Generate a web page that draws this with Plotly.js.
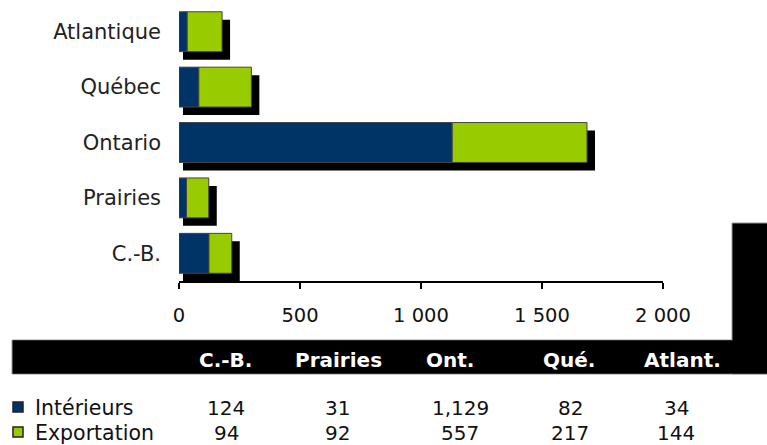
<!DOCTYPE html>
<html>
<head>
<meta charset="utf-8">
<script src="https://cdn.plot.ly/plotly-3.0.1.min.js"></script>
<style>html,body{margin:0;padding:0;background:#fff;}#chart{width:767px;height:445px;}</style>
</head>
<body>
<div id="chart"></div>
<script>
// ---- data ----
const regions = ['C.-B.', 'Prairies', 'Ontario', 'Québec', 'Atlantique'];
const tableHeaders = ['C.-B.', 'Prairies', 'Ont.', 'Qué.', 'Atlant.'];
const interieurs = [124, 31, 1129, 82, 34];
const exportation = [94, 92, 557, 217, 144];
const seriesNames = ['Intérieurs', 'Exportation'];
const xTicks = [0, 500, 1000, 1500, 2000];

// ---- layout constants (pixels) ----
const W = 767, H = 445;
const L = 179, R = 663, T = 4, B = 281;
const pw = R - L, ph = B - T;
const px2x = p => (p - L) / pw;
const py2y = p => (B - p) / ph;
const unitsPerPx = 2000 / pw;

const NAVY = '#003366', GREEN = '#99CC00';
const FONT = 'DejaVu Sans, Verdana, sans-serif';
const barW = 0.72;
const shadowDown = 8 / (ph / 5);

const totals = interieurs.map((v, i) => v + exportation[i]);
const shadowBase = regions.map(() => 4 * unitsPerPx);
const shadowLen = totals.map(t => t + 8 * unitsPerPx - 4 * unitsPerPx);

const traces = [
  {type: 'bar', orientation: 'h', y: regions, x: shadowLen, base: shadowBase,
   width: barW, offset: -barW / 2 - shadowDown, marker: {color: '#000'},
   showlegend: false, hoverinfo: 'skip'},
  {type: 'bar', orientation: 'h', name: seriesNames[0], y: regions, x: interieurs,
   base: regions.map(() => 0), width: barW, offset: -barW / 2,
   marker: {color: NAVY, line: {color: '#444', width: 1}}},
  {type: 'bar', orientation: 'h', name: seriesNames[1], y: regions, x: exportation,
   base: interieurs, width: barW, offset: -barW / 2,
   marker: {color: GREEN, line: {color: '#444', width: 1}}}
];

const headerX = [225, 338, 450, 569, 682];
const dataX = [226, 337, 460, 570, 676];
const annotations = [];
tableHeaders.forEach((h, i) => annotations.push({
  xref: 'paper', yref: 'paper', x: px2x(headerX[i]), y: py2y(360),
  xanchor: 'center', yanchor: 'middle', showarrow: false, text: '<b>' + h + '</b>',
  font: {family: FONT, size: 20, color: '#fff'}
}));
[interieurs, exportation].forEach((arr, r) => arr.forEach((v, i) => annotations.push({
  xref: 'paper', yref: 'paper', x: px2x(dataX[i]), y: py2y(r === 0 ? 408 : 433),
  xanchor: 'center', yanchor: 'middle', showarrow: false,
  text: v.toLocaleString('en-US'), font: {family: FONT, size: 20, color: '#111'}
})));
// legend as text annotations next to swatches
seriesNames.forEach((n, r) => annotations.push({
  xref: 'paper', yref: 'paper', x: px2x(33), y: py2y(r === 0 ? 408 : 433),
  xanchor: 'left', yanchor: 'middle', showarrow: false, text: n,
  font: {family: FONT, size: 20.5, color: '#111'}
}));

const shapes = [
  {type: 'rect', xref: 'paper', yref: 'paper', x0: px2x(12), x1: px2x(772),
   y0: py2y(374), y1: py2y(340), fillcolor: '#000', line: {color: '#999', width: 1}, layer: 'below'},
  {type: 'rect', xref: 'paper', yref: 'paper', x0: px2x(732), x1: px2x(772),
   y0: py2y(374), y1: py2y(223), fillcolor: '#000', line: {color: '#999', width: 1}, layer: 'below'},
  {type: 'rect', xref: 'paper', yref: 'paper', x0: px2x(13), x1: px2x(771),
   y0: py2y(373.5), y1: py2y(340.5), fillcolor: '#000', line: {width: 0}, layer: 'below'}
];
[NAVY, GREEN].forEach((c, r) => {
  const cy = r === 0 ? 407 : 432;
  shapes.push({type: 'rect', xref: 'paper', yref: 'paper',
    x0: px2x(13), x1: px2x(23), y0: py2y(cy + 5), y1: py2y(cy - 5),
    fillcolor: c, line: {color: '#222', width: 1.5}});
});

const layout = {
  width: W, height: H,
  margin: {l: L, r: W - R, t: T, b: H - B, pad: 0, autoexpand: false},
  paper_bgcolor: '#fff', plot_bgcolor: 'rgba(0,0,0,0)',
  barmode: 'overlay', separators: ', ',
  font: {family: FONT, size: 20, color: '#222'},
  showlegend: false,
  xaxis: {range: [0, 2000], tickvals: xTicks, separatethousands: true,
          showline: true, linecolor: '#000', linewidth: 2, ticks: 'outside',
          ticklen: 6, tickwidth: 2, tickcolor: '#000', showgrid: false, zeroline: false,
          ticklabelstandoff: 10, tickfont: {family: FONT, size: 19.5, color: '#111'},
          automargin: false, fixedrange: true},
  yaxis: {type: 'category', categoryorder: 'array', categoryarray: regions,
          range: [-0.5, 4.5], showline: false, ticks: '', showgrid: false, zeroline: false,
          ticklabelstandoff: 17, tickfont: {family: FONT, size: 21, color: '#222'},
          automargin: false, fixedrange: true},
  annotations: annotations,
  shapes: shapes
};

Plotly.newPlot('chart', traces, layout, {displayModeBar: false, staticPlot: true});
</script>
</body>
</html>
